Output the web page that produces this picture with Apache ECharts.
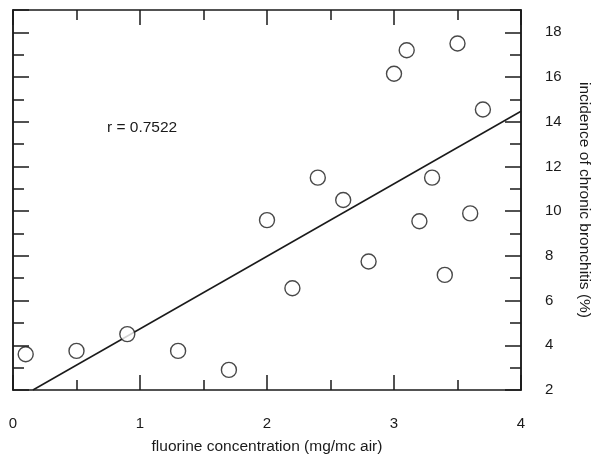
<!DOCTYPE html>
<html>
<head>
<meta charset="utf-8">
<script src="https://cdn.jsdelivr.net/npm/echarts@6/dist/echarts.min.js"></script>
<style>
html, body { margin: 0; padding: 0; background: #fff; }
#chart { width: 594px; height: 456px; }
</style>
</head>
<body>
<div id="chart"></div>
<script>
// fluorine concentration (mg/mc air)
var fluorine = [0.1, 0.5, 0.9, 1.3, 1.7, 2.0, 2.2, 2.4, 2.6, 2.8, 3.0, 3.1, 3.2, 3.3, 3.4, 3.5, 3.6, 3.7];
// incidence of chronic bronchitis (%)
var bronchitis = [3.6, 3.75, 4.5, 3.75, 2.9, 9.6, 6.55, 11.5, 10.5, 7.75, 16.15, 17.2, 9.55, 11.5, 7.15, 17.5, 9.9, 14.55];
// fitted line end points
var fitX = [0.157, 4.0];
var fitY = [2.0, 14.47];
var xTicks = [0, 1, 2, 3, 4];
var yTicks = [2, 4, 6, 8, 10, 12, 14, 16, 18];

var chart = echarts.init(document.getElementById('chart'));
var font = 'Liberation Sans, Arial, sans-serif';
var ink = '#1a1a1a';

var points = fluorine.map(function (x, i) { return [x, bronchitis[i]]; });
var fit = fitX.map(function (x, i) { return [x, fitY[i]]; });

function yAx(pos, interval, len, labels) {
    return {
        type: 'value', position: pos, min: 2, max: 19, interval: interval,
        axisLine: {show: true, onZero: false, lineStyle: {color: ink, width: 1.5}},
        axisTick: {show: true, inside: true, length: len, lineStyle: {color: ink, width: 1.5}},
        axisLabel: {show: labels, margin: 24, fontSize: 15, color: ink, fontFamily: font, showMaxLabel: false,
            formatter: function (v) { return yTicks.indexOf(v) >= 0 ? String(v) : ''; }},
        splitLine: {show: false},
        name: labels ? 'incidence of chronic bronchitis (%)' : '',
        nameLocation: 'middle', nameRotate: -90, nameGap: 55,
        nameTextStyle: {fontSize: 15.5, color: ink, fontFamily: font}
    };
}

function xAx(pos, labels) {
    return {
        type: 'value', position: pos, min: 0, max: 4, interval: 1,
        axisLine: {show: true, onZero: false, lineStyle: {color: ink, width: 1.5}},
        axisTick: {show: true, inside: true, length: 15, lineStyle: {color: ink, width: 1.5}},
        minorTick: {show: true, splitNumber: 2, length: 10, lineStyle: {color: ink, width: 1.5}},
        axisLabel: {show: labels, margin: 26, fontSize: 15, color: ink, fontFamily: font,
            formatter: function (v) { return xTicks.indexOf(v) >= 0 ? String(v) : ''; }},
        splitLine: {show: false},
        name: labels ? 'fluorine concentration (mg/mc air)' : '',
        nameLocation: 'middle', nameGap: 49,
        nameTextStyle: {fontSize: 15.5, color: ink, fontFamily: font}
    };
}

var option = {
    backgroundColor: '#fff',
    animation: false,
    title: {
        text: 'r = 0.7522', left: 102, top: 115,
        textStyle: {fontSize: 15.5, fontWeight: 'normal', color: ink, fontFamily: font}
    },
    grid: {left: 13, right: 73, top: 10, bottom: 66, outerBoundsMode: 'none'},
    xAxis: [xAx('bottom', true), xAx('top', false)],
    yAxis: [yAx('right', 2, 16, true), yAx('right', 1, 11, false), yAx('left', 2, 16, false), yAx('left', 1, 11, false)],
    series: [
        {
            type: 'line', data: fit, xAxisIndex: 0, yAxisIndex: 0,
            showSymbol: false, symbol: 'none',
            lineStyle: {color: ink, width: 1.5}, z: 2
        },
        {
            type: 'scatter', data: points, xAxisIndex: 0, yAxisIndex: 0,
            symbol: 'circle', symbolSize: 15,
            itemStyle: {color: '#fff', borderColor: ink, borderWidth: 1.4}, z: 3
        }
    ]
};
chart.setOption(option);
</script>
</body>
</html>
